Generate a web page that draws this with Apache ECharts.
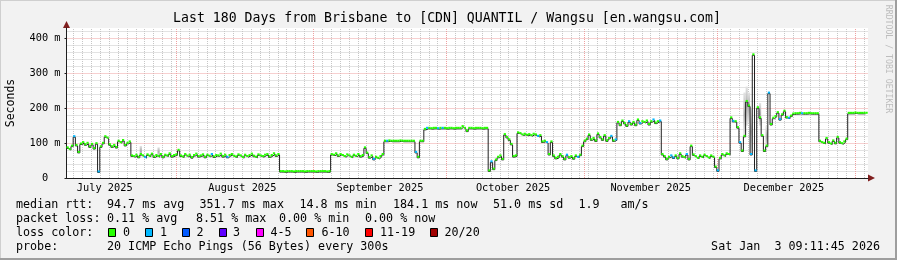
<!DOCTYPE html>
<html><head><meta charset="utf-8">
<script src="https://cdn.jsdelivr.net/npm/echarts@6/dist/echarts.min.js"></script>
<style>html,body{margin:0;padding:0;background:#f2f2f2}#c{width:897px;height:260px}</style>
</head><body><div id="c"></div><script>
// ---------- data ----------
const titleText = 'Last 180 Days from Brisbane to [CDN] QUANTIL / Wangsu [en.wangsu.com]';
const startStamp = '2025-07-07T09:11:45';   // left edge of the graph (local time)
const stepDays = 0.5;                      // sample spacing of the median series
// median RTT in ms, one value every 0.5 day from the start
const rtt = [
 85,80,90,117,92,72,96,100,94,98,
 88,95,83,97,16,88,98,117,113,94,
 88,92,86,104,100,106,92,98,102,62,
 60,64,58,66,62,57,65,61,67,59,
 63,60,66,58,64,62,68,60,63,65,
 78,62,59,66,61,64,57,63,67,60,
 62,65,58,64,61,66,59,63,62,67,
 60,64,58,63,66,61,59,65,62,57,
 64,60,63,67,61,58,65,62,60,64,
 66,59,63,68,62,66,
 17,17,16,17,
 17,17,16,17,17,17,17,16,17,17,
 17,17,16,17,17,17,17,16,17,
 66,
 64,68,62,66,63,60,65,62,58,64,
 61,66,60,63,85,70,57,62,52,58,
 55,60,66,
 104,104,105,104,104,104,104,105,104,104,104,104,104,104,
 72,58,104,104,138,
 141,141,140,141,141,140,141,141,141,140,
 141,141,140,141,141,141,146,141,133,141,
 141,140,141,141,141,140,141,141,
 19,45,24,50,58,62,52,123,115,108,95,60,62,
 128,
 126,122,124,121,123,120,124,122,118,120,
 102,104,100,66,102,
 62,55,58,66,60,52,64,57,60,54,62,58,64,
 90,
 104,110,122,108,112,105,125,115,108,120,105,112,118,105,108,
 158,150,162,155,148,160,152,158,150,165,155,160,158,162,152,160,165,156,160,162,
 66,60,52,58,62,56,62,55,68,60,57,66,52,90,65,60,55,62,58,64,60,56,62,58,
 30,19,55,66,62,68,66,
 171,161,160,143,100,76,118,218,205,66,
 351.7,
 19,200,171,120,76,90,242,152,
 170,175,186,166,180,190,172,170,176,182,
 183,183,184,183,183,183,184,183,183,183,183,
 104,
 100,98,112,100,96,105,98,115,100,97,102,110,
 184,184,184,185,184,184,184,184,184.1
];
// days (since start) where 1 of 20 pings was lost; all others 0 loss
const lossOneAt = [1.5,7,17.5,32.5,36,69,72,78.5,81,83.5,84.5,95.5,106,108,112.5,115,122.5,123.5,
  126.5,129,132,133.5,136,136.5,139.5,146.5,150,151.5,154,155,158,160.5,162.5,165.5];
// smoke (spread of the pings) where it is visible: [day, low ms, high ms]
const smokeDays = [16.5, 20.5, 152.5, 153, 153.5, 154, 156, 157.5];
const smokeLow  = [62, 62, 118, 150, 160, 66, 150, 85];
const smokeHigh = [92, 88, 245, 262, 245, 200, 215, 150];
const monthStarts = ['2025-08-01','2025-09-01','2025-10-01','2025-11-01','2025-12-01','2026-01-01'];
const monthLabelDates = ['2025-07-16','2025-08-16','2025-09-16','2025-10-16','2025-11-16','2025-12-16'];
const monthLabels = ['July 2025','August 2025','September 2025','October 2025','November 2025','December 2025'];
const yTicks = [0,100,200,300,400];
const lossNames = ['0','1','2','3','4-5','6-10','11-19','20/20'];
const lossColors = ['#26ff00','#00b8ff','#0059ff','#5e00ff','#ff00ff','#ff5500','#ff0000','#a00000'];
const rttStats = ['94.7 ms avg','351.7 ms max','14.8 ms min','184.1 ms now','51.0 ms sd','1.9','am/s'];
const lossStats = ['0.11 % avg','8.51 % max','0.00 % min','0.00 % now'];
const probeText = '20 ICMP Echo Pings (56 Bytes) every 300s';
const dateText = 'Sat Jan  3 09:11:45 2026';

// ---------- helpers ----------
const FONT = 'DejaVu Sans Mono';
const DAY = 86400000;
const t0 = Date.parse(startStamp + 'Z');
const toT = s => (Date.parse(s + 'T00:00:00Z') - t0) / DAY;
const xMax = 180.57, yMax = 430;
const lossSet = new Set(lossOneAt.map(v => Math.round(v * 2)));
const points = rtt.map((v, i) => [i * stepDays, v, lossSet.has(i) ? 1 : 0]);
const smoke = smokeDays.map((d, i) => [d, smokeLow[i], smokeHigh[i]]);
const majorX = monthStarts.map(toT);
const labelX = monthLabelDates.map(toT);
const minorX = [];
{ const e0 = t0 / DAY; let d = Math.ceil(e0); if (d % 2) d++;
  for (; d - e0 < xMax; d += 2) { const t = d - e0; if (!majorX.some(m => Math.abs(m - t) < 0.3)) minorX.push(t); } }
const minorY = []; for (let v = 20; v < yMax; v += 20) if (v % 100) minorY.push(v);
const majorY = yTicks.filter(v => v > 0);

const gridGray = '#c6c6c6', gridRed = '#eea0a0';
const chart = echarts.init(document.getElementById('c'), null, {renderer: 'canvas', width: 897, height: 260});

const txt = (text, x, y, size, extra) => Object.assign({type: 'text', x, y, silent: true,
  style: Object.assign({text, fontFamily: FONT, fontSize: size, fill: '#000', verticalAlign: 'middle', align: 'left'}, (extra || {}).style || {})},
  extra ? {rotation: extra.rotation || 0} : {});

const graphics = [
  {type: 'rect', shape: {x: 0, y: 0, width: 897, height: 1}, style: {fill: '#cfcfcf'}, silent: true},
  {type: 'rect', shape: {x: 0, y: 0, width: 1, height: 260}, style: {fill: '#cfcfcf'}, silent: true},
  {type: 'rect', shape: {x: 0, y: 258, width: 897, height: 2}, style: {fill: '#9e9e9e'}, silent: true},
  {type: 'rect', shape: {x: 895, y: 0, width: 2, height: 260}, style: {fill: '#9e9e9e'}, silent: true},
  txt(titleText, 447, 19, 13.2, {style: {align: 'center'}}),
  txt('Seconds', 11, 103, 11.5, {rotation: Math.PI / 2, style: {align: 'center'}}),
  txt('RRDTOOL / TOBI OETIKER', 888, 59, 8.2, {rotation: -Math.PI / 2, style: {align: 'center', fill: '#bdbdbd'}}),
  txt('median rtt:', 16, 204.5, 11.7),
  txt('packet loss:', 16, 218.5, 11.7),
  txt('loss color:', 16, 232.5, 11.7),
  txt('probe:', 16, 246.5, 11.7),
  txt(probeText, 107, 246.5, 11.7),
  txt(dateText, 880, 246.5, 11.7, {style: {align: 'right'}})
];
const rttX = [107, 199.5, 299.5, 393, 493, 578.5, 620.5];
rttStats.forEach((s, i) => graphics.push(txt(s, rttX[i], 204.5, 11.7)));
const lossX = [107, 196, 279, 365];
lossStats.forEach((s, i) => graphics.push(txt(s, lossX[i], 218.5, 11.7)));
const boxX = [108.5, 145.5, 182.5, 219.5, 256.5, 306.5, 365.5, 430.5];
const boxLabelX = [123, 160, 196.5, 233, 270.5, 321.5, 380, 444.5];
lossNames.forEach((n, i) => {
  graphics.push({type: 'rect', silent: true, shape: {x: boxX[i], y: 228.5, width: 7, height: 8},
    style: {fill: lossColors[i], stroke: '#000', lineWidth: 1}});
  graphics.push(txt(n, boxLabelX[i], 232.5, 11.7));
});

const axisCommon = {min: 0, type: 'value', splitLine: {show: false}};
const option = {
  animation: false,
  backgroundColor: '#f2f2f2',
  grid: {left: 66.5, right: 29, top: 28, bottom: 82, containLabel: false, outerBoundsMode: 'none',
    show: true, backgroundColor: '#ffffff', borderWidth: 0},
  xAxis: [
    Object.assign({}, axisCommon, {max: xMax, position: 'bottom', z: 3,
      axisLine: {show: true, onZero: false, lineStyle: {color: '#1f1f1f', width: 1}},
      axisTick: {show: false},
      axisLabel: {show: true, customValues: labelX, margin: 5, color: '#000', fontFamily: FONT, fontSize: 10.3,
        formatter: v => { let b = 0; labelX.forEach((m, i) => { if (Math.abs(m - v) < Math.abs(labelX[b] - v)) b = i; }); return monthLabels[b]; }}}),
    Object.assign({}, axisCommon, {max: xMax, position: 'bottom', z: 1,
      axisLine: {show: true, onZero: false, symbol: ['none', 'triangle'], symbolSize: [7, 7], symbolOffset: [0, 3.5],
        lineStyle: {color: '#801f1f', width: 1}},
      axisTick: {show: false}, axisLabel: {show: false}})
  ],
  yAxis: [
    Object.assign({}, axisCommon, {max: yMax, interval: 100, position: 'left', z: 3,
      axisLine: {show: true, onZero: false, lineStyle: {color: '#1f1f1f', width: 1}},
      axisTick: {show: true, length: 2, lineStyle: {color: '#1f1f1f'}},
      axisLabel: {show: true, showMaxLabel: false, margin: 6, color: '#000', fontFamily: FONT, fontSize: 10.3,
        formatter: v => yTicks.includes(v) ? (v === 0 ? '0  ' : v + ' m') : ''}}),
    Object.assign({}, axisCommon, {max: yMax, interval: 100, position: 'left', z: 1,
      axisLine: {show: true, onZero: false, symbol: ['none', 'triangle'], symbolSize: [7, 7], symbolOffset: [0, 3.5],
        lineStyle: {color: '#801f1f', width: 1}},
      axisTick: {show: false}, axisLabel: {show: false}})
  ],
  series: [
    {type: 'line', data: [], silent: true, z: 1,
      markLine: {silent: true, symbol: ['none', 'none'], animation: false, z: 1, label: {show: false},
        emphasis: {disabled: true}, lineStyle: {color: gridGray, width: 1, type: [1, 1]},
        data: minorX.map(v => ({xAxis: v})).concat(minorY.map(v => ({yAxis: v})))}},
    {type: 'line', data: [], silent: true, z: 1,
      markLine: {silent: true, symbol: ['none', 'none'], animation: false, z: 1, label: {show: false},
        emphasis: {disabled: true}, lineStyle: {color: gridRed, width: 1, type: [1, 1]},
        data: majorX.map(v => ({xAxis: v})).concat(majorY.map(v => ({yAxis: v})))}},
    {type: 'custom', name: 'smoke', data: smoke, silent: true, z: 2, clip: true,
      renderItem: (params, api) => {
        const t = api.value(0);
        const a = api.coord([t, api.value(2)]);
        const b = api.coord([t + stepDays, api.value(1)]);
        return {type: 'rect', shape: {x: a[0], y: a[1], width: b[0] - a[0], height: b[1] - a[1]},
          style: {fill: {type: 'linear', x: 0, y: 0, x2: 0, y2: 1,
            colorStops: [{offset: 0, color: '#e4e4e4'}, {offset: 0.5, color: '#a8a8a8'}, {offset: 1, color: '#e4e4e4'}]}}};
      }},
    {type: 'line', name: 'median', data: points.map(p => [p[0], p[1]]), step: 'end', showSymbol: false,
      symbol: 'none', silent: true, z: 3, lineStyle: {color: '#202020', width: 1}},
    {type: 'custom', name: 'loss', data: points, silent: true, z: 4, clip: true,
      renderItem: (params, api) => {
        const t = api.value(0), v = api.value(1), l = api.value(2);
        const a = api.coord([t, v]);
        const b = api.coord([Math.min(t + stepDays, xMax), v]);
        return {type: 'rect', shape: {x: a[0], y: a[1] - 2, width: b[0] - a[0], height: 2},
          style: {fill: lossColors[l]}};
      }}
  ],
  graphic: {elements: graphics}
};
chart.setOption(option);
</script></body></html>
